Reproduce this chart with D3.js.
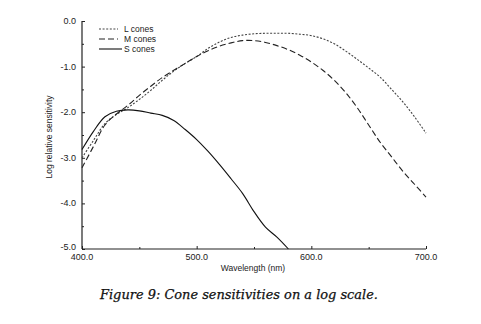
<!DOCTYPE html>
<html>
<head>
<meta charset="utf-8">
<script src="https://cdn.jsdelivr.net/npm/d3@7"></script>
<style>
  html, body { margin: 0; padding: 0; background: #fff; }
  svg { display: block; }
  .tick-label { font-family: "Liberation Sans", Arial, sans-serif; font-size: 9px; fill: #222; }
  .axis-title { font-family: "Liberation Sans", Arial, sans-serif; font-size: 8.5px; fill: #222; }
  .legend-text { font-family: "Liberation Sans", Arial, sans-serif; font-size: 8.5px; fill: #222; }
  .caption { font-family: "DejaVu Serif", "Liberation Serif", serif; font-style: italic; font-size: 12px; fill: #111; stroke: #111; stroke-width: 0.25px; }
</style>
</head>
<body>
<svg id="chart" width="481" height="324"></svg>
<script>
// Wavelength samples (nm)
const wavelengths = [400, 410, 420, 430, 440, 450, 460, 470, 480, 490, 500,
                     510, 520, 530, 540, 550, 560, 570, 580, 590, 600,
                     610, 620, 630, 640, 650, 660, 670, 680, 690, 700];

// Log relative sensitivity per cone class
const lCones = [-3.00, -2.62, -2.25, -2.05, -1.90, -1.72, -1.52, -1.30, -1.10, -0.93, -0.78,
                -0.60, -0.46, -0.36, -0.31, -0.28, -0.27, -0.27, -0.27, -0.29, -0.32,
                -0.39, -0.50, -0.66, -0.84, -1.03, -1.23, -1.50, -1.78, -2.10, -2.46];
const mCones = [-3.22, -2.75, -2.28, -2.04, -1.85, -1.63, -1.43, -1.24, -1.08, -0.93, -0.78,
                -0.65, -0.55, -0.48, -0.43, -0.43, -0.47, -0.54, -0.63, -0.75, -0.90,
                -1.08, -1.30, -1.57, -1.90, -2.28, -2.66, -2.98, -3.30, -3.58, -3.86];
const sCones = [-2.82, -2.42, -2.10, -1.98, -1.95, -1.97, -2.02, -2.07, -2.18, -2.38, -2.60,
                -2.86, -3.15, -3.46, -3.78, -4.18, -4.52, -4.74, -5.00];

const seriesNames = ["L cones", "M cones", "S cones"];
const xTicks = [400, 500, 600, 700];
const xMinorTicks = [450, 550, 650];
const yTicks = [0, -1, -2, -3, -4, -5];
const yMinorTicks = [-0.5, -1.5, -2.5, -3.5, -4.5];

const xLabel = "Wavelength (nm)";
const yLabel = "Log relative sensitivity";
const caption = "Figure 9:  Cone sensitivities on a log scale.";

const svg = d3.select("#chart");
const x = d3.scaleLinear().domain([400, 700]).range([82, 426]);
const y = d3.scaleLinear().domain([-5, 0]).range([249, 21]);

const ink = "#222";

// Axes: left and bottom frame lines with inward ticks
const yAxis = d3.axisLeft(y).tickValues(yTicks).tickSize(-3).tickFormat("");
const gy = svg.append("g").attr("transform", `translate(${x(400)},0)`).call(yAxis);
gy.select(".domain").attr("d", `M0,${y(0)}V${y(-5)}`);
gy.selectAll("line").attr("stroke", ink);
gy.select(".domain").attr("stroke", ink).attr("stroke-width", 1.2);

const yMinor = d3.axisLeft(y).tickValues(yMinorTicks).tickSize(-2).tickFormat("");
const gym = svg.append("g").attr("transform", `translate(${x(400)},0)`).call(yMinor);
gym.select(".domain").remove();
gym.selectAll("line").attr("stroke", ink);

const xAxis = d3.axisBottom(x).tickValues(xTicks).tickSize(-3).tickFormat("");
const gx = svg.append("g").attr("transform", `translate(0,${y(-5)})`).call(xAxis);
gx.select(".domain").attr("d", `M${x(400)},0H${x(700)}`).attr("stroke", ink).attr("stroke-width", 1.2);
gx.selectAll("line").attr("stroke", ink);

const xMinor = d3.axisBottom(x).tickValues(xMinorTicks).tickSize(-2).tickFormat("");
const gxm = svg.append("g").attr("transform", `translate(0,${y(-5)})`).call(xMinor);
gxm.select(".domain").remove();
gxm.selectAll("line").attr("stroke", ink);

// Tick labels (the lowest y label sits just above the corner)
svg.append("g").selectAll("text").data(yTicks).join("text")
  .attr("class", "tick-label")
  .attr("x", x(400) - 6)
  .attr("y", d => d === -5 ? y(d) + 1 : y(d) + 3)
  .attr("text-anchor", "end")
  .text(d => d.toFixed(1));

svg.append("g").selectAll("text").data(xTicks).join("text")
  .attr("class", "tick-label")
  .attr("x", d => x(d))
  .attr("y", y(-5) + 10.5)
  .attr("text-anchor", "middle")
  .text(d => d.toFixed(1));

// Axis titles
svg.append("text").attr("class", "axis-title")
  .attr("x", 253).attr("y", 271)
  .attr("text-anchor", "middle")
  .text(xLabel);

svg.append("text").attr("class", "axis-title")
  .attr("transform", `translate(52,137) rotate(-90)`)
  .attr("text-anchor", "middle")
  .text(yLabel);

// Curves
const line = d3.line()
  .x((d, i) => x(wavelengths[i]))
  .y(d => y(d))
  .curve(d3.curveCatmullRom.alpha(0.5));

const styles = [
  { data: lCones, dash: "2,1.6", color: "#444", width: 1.1 },
  { data: mCones, dash: "6,3", color: "#222", width: 1.1 },
  { data: sCones, dash: null, color: "#111", width: 1.1 }
];

svg.append("g").selectAll("path").data(styles).join("path")
  .attr("d", d => line(d.data))
  .attr("fill", "none")
  .attr("stroke", d => d.color)
  .attr("stroke-width", d => d.width)
  .attr("stroke-dasharray", d => d.dash);

// Legend
const legend = svg.append("g").selectAll("g").data(styles).join("g")
  .attr("transform", (d, i) => `translate(99,${29 + i * 10})`);
legend.append("line")
  .attr("x1", 0).attr("x2", (d, i) => i === 2 ? 23 : 19)
  .attr("y1", 0).attr("y2", 0)
  .attr("stroke", d => d.color)
  .attr("stroke-width", d => d.width)
  .attr("stroke-dasharray", d => d.dash);
legend.append("text")
  .attr("class", "legend-text")
  .attr("x", 25).attr("y", 3)
  .text((d, i) => seriesNames[i]);

// Caption
svg.append("text").attr("class", "caption")
  .attr("x", 100).attr("y", 299)
  .attr("textLength", 278)
  .attr("lengthAdjust", "spacingAndGlyphs")
  .text(caption);
</script>
</body>
</html>
